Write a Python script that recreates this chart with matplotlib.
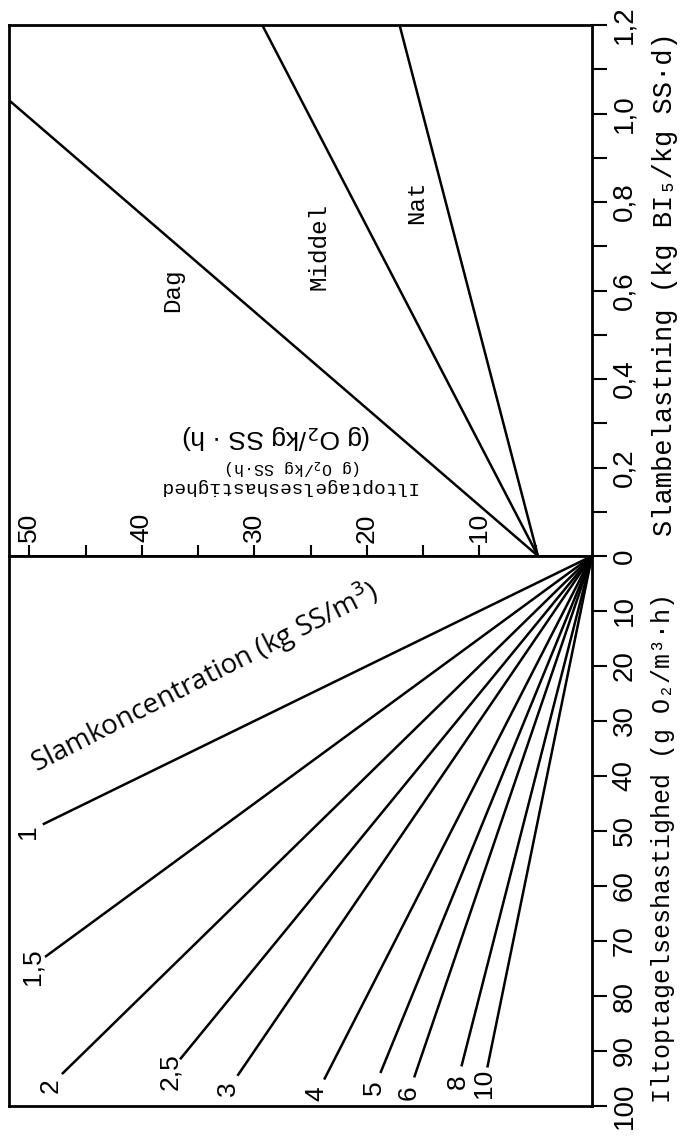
import numpy as np
import matplotlib.pyplot as plt

# top panel: specific oxygen uptake rate vs sludge load
periods = ["Dag", "Middel", "Nat"]
period_load = [[0.0, 1.03], [0.0, 1.2], [0.0, 1.2]]
period_rate = [[4.8, 51.8], [4.8, 29.3], [4.8, 17.1]]

# bottom panel: volumetric uptake rate for each sludge concentration
conc_labels = ["1", "1,5", "2", "2,5", "3", "4", "5", "6", "8", "10"]
conc_end_rate = [48.8, 48.6, 47.1, 36.6, 31.5, 23.8, 18.8, 15.8, 11.6, 9.3]
conc_end_vol = [48.8, 72.9, 94.2, 91.5, 94.5, 95.2, 94.0, 94.8, 92.8, 93.0]

load_ticks = [0, 0.1, 0.2, 0.3, 0.4, 0.5, 0.6, 0.7, 0.8, 0.9, 1.0, 1.1, 1.2]
load_labels = ["0", "", "0,2", "", "0,4", "", "0,6", "", "0,8", "", "1,0", "", "1,2"]
rate_ticks = [5, 10, 15, 20, 25, 30, 35, 40, 45, 50]
rate_labels = [10, 20, 30, 40, 50]
vol_ticks = [10, 20, 30, 40, 50, 60, 70, 80, 90, 100]

SANS = ["Liberation Sans", "DejaVu Sans"]
MONO = ["Liberation Mono", "DejaVu Sans Mono"]
LW = 1.8

fig = plt.figure(figsize=(6.82, 11.36), dpi=100)
left, right = 9 / 682, 592 / 682
ax_t = fig.add_axes((left, 1 - 556 / 1136, right - left, 531 / 1136))
ax_b = fig.add_axes((left, 1 - 1106 / 1136, right - left, 550 / 1136))

for ax in (ax_t, ax_b):
    ax.set_xlim(51.8, 0)
    for sp in ax.spines.values():
        sp.set_linewidth(2)
ax_t.set_ylim(0, 1.2)
ax_b.set_ylim(100, 0)

# ---- top panel
for name, lo, ra in zip(periods, period_load, period_rate):
    ax_t.plot(ra, lo, color="black", lw=LW, solid_capstyle="butt")

ax_t.text(37.3, 0.6, "Dag", family=MONO, fontsize=17.5, rotation=90,
          ha="center", va="center")
ax_t.text(24.3, 0.7, "Middel", family=MONO, fontsize=17.5, rotation=90,
          ha="center", va="center")
ax_t.text(15.6, 0.8, "Nat", family=MONO, fontsize=17.5, rotation=90,
          ha="center", va="center")

ax_t.text(28.0, 0.27, "(g O$_2$/kg SS · h)", family=SANS, fontsize=19,
          rotation=180, ha="center", va="center")
ax_t.text(26.5, 0.2, "(g O$_2$/kg SS·h)", family=MONO, fontsize=12,
          rotation=180, ha="center", va="center")
ax_t.text(27.0, 0.157, "Iltoptagelseshastighed", family=MONO, fontsize=14,
          rotation=180, ha="center", va="center")

ax_t.yaxis.tick_right()
ax_t.set_yticks(load_ticks)
ax_t.set_yticklabels(load_labels, family=SANS)
ax_t.tick_params(axis="y", direction="out", length=11, width=1.5, pad=3,
                 labelsize=20, labelrotation=90)
for lab in ax_t.get_yticklabels():
    lab.set_va("center")

ax_t.set_xticks(rate_ticks)
ax_t.tick_params(axis="x", direction="in", length=8, width=1.5,
                 labelbottom=False)
for v in rate_labels:
    ax_t.text(v, 0.053, str(v), transform=ax_t.get_xaxis_transform(),
              family=SANS, fontsize=19, rotation=90, ha="center", va="center")

# ---- bottom panel
p0 = ax_b.transData.transform((0, 0))
for lab, r, v in zip(conc_labels, conc_end_rate, conc_end_vol):
    ax_b.plot([0, r], [0, v], color="black", lw=LW, solid_capstyle="butt")
    p1 = ax_b.transData.transform((r, v))
    d = (p1 - p0) / np.hypot(*(p1 - p0))
    ax_b.annotate(lab, (r, v), xytext=(d[0] * 16, d[1] * 16),
                  textcoords="offset pixels", family=SANS, fontsize=19,
                  rotation=90, ha="center", va="center")

ax_b.text(49.3, 39.5, "Slamkoncentration (kg SS/m$^3$)", family="Open Sans",
          fontsize=20, rotation=27, rotation_mode="anchor",
          ha="left", va="baseline")

ax_b.yaxis.tick_right()
ax_b.set_yticks(vol_ticks)
ax_b.set_yticklabels([str(v) for v in vol_ticks], family=SANS)
ax_b.tick_params(axis="y", direction="out", length=11, width=1.5, pad=3,
                 labelsize=20, labelrotation=90)
for lab in ax_b.get_yticklabels():
    lab.set_va("center")
ax_b.set_xticks([])

# ---- axis titles
fig.text(665 / 682, 1 - 284 / 1136, "Slambelastning (kg BI₅/kg SS·d)",
         family=MONO, fontsize=19.5, rotation=90, ha="center", va="center")
fig.text(663 / 682, 1 - 848 / 1136, "Iltoptagelseshastighed (g O₂/m³·h)",
         family=MONO, fontsize=18, rotation=90, ha="center", va="center")

fig.savefig("out.png", dpi=100)
